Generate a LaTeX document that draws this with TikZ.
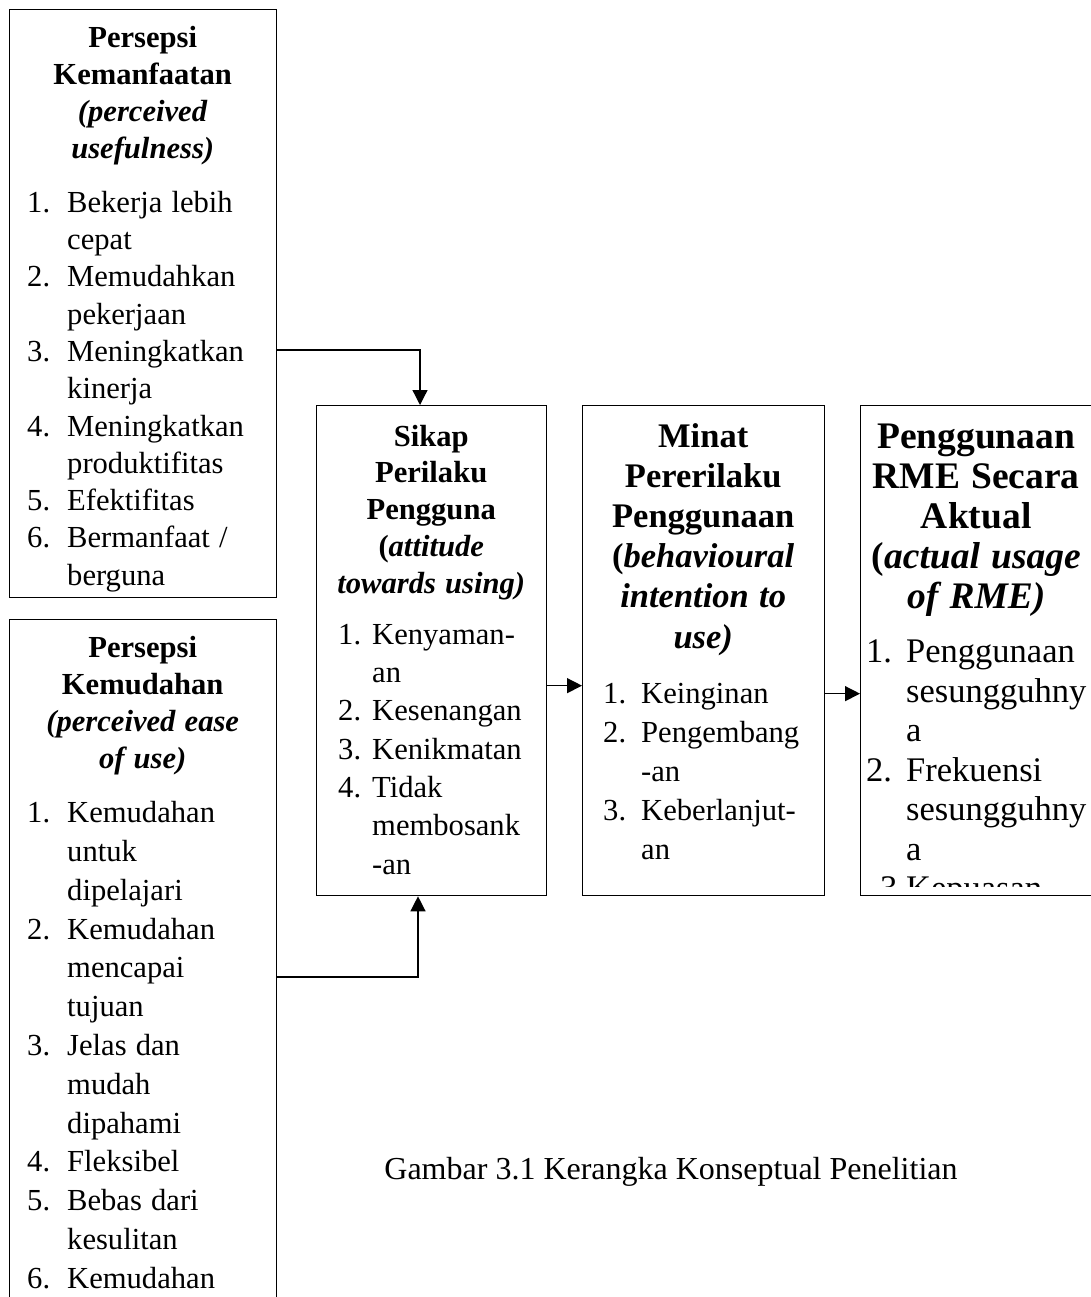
\documentclass[tikz,border=0pt]{standalone}
\usepackage{fontspec}
\setmainfont{Liberation Serif}
\usetikzlibrary{arrows.meta}

\newlength\kiri
\newlength\gantung
\newcommand{\nomor}[1]{\hspace*{\kiri}\makebox[\gantung][l]{#1}}
\newcommand{\sambung}{\hspace*{\kiri}\hspace*{\gantung}}
\newcommand{\ukuran}[2]{\fontsize{#1}{#2}\selectfont\spaceskip=0.3em plus 0.2em\relax}

\begin{document}
\begin{tikzpicture}[x = 1pt, y = -1pt,
  kotak/.style = {draw, line width = 1.3pt, anchor = north west, inner sep = 0pt},
  isi/.style = {anchor = base west, inner sep = 0pt},
  panah/.style = {-{Triangle[length = 15pt, width = 15pt]}, line width = 1.3pt}]
\useasboundingbox (0, 0) rectangle (1090, 1297);
%\draw[very thin, color = gray] (0, 0) grid[step = 100] (1090, 1297);
\node[kotak, minimum width = 267, minimum height = 588] (pu) at (9, 9) {};
\node[kotak, minimum width = 267, minimum height = 720] (peou) at (9, 619) {};
\node[kotak, minimum width = 230, minimum height = 490] (sikap) at (316, 405) {};
\node[kotak, minimum width = 242, minimum height = 490] (minat) at (582, 405) {};
\node[kotak, minimum width = 232, minimum height = 490] (guna) at (860, 405) {};

% perceived usefulness
\node[isi, text width = 267] (pu-teks) at ([yshift = -39pt]pu.north west) {%
  {\centering\bfseries\ukuran{30.6}{37}%
  Persepsi\\ Kemanfaatan\\ \textit{(perceived}\\ \textit{usefulness)}\par}
  \vspace{16pt}
  \raggedright\ukuran{30.6}{37.3}%
  \setlength\kiri{18pt}\setlength\gantung{40pt}%
  \nomor{1.}Bekerja lebih\\
  \sambung cepat\\
  \nomor{2.}Memudahkan\\
  \sambung pekerjaan\\
  \nomor{3.}Meningkatkan\\
  \sambung kinerja\\
  \nomor{4.}Meningkatkan\\
  \sambung produktifitas\\
  \nomor{5.}Efektifitas\\
  \nomor{6.}Bermanfaat /\\
  \sambung berguna\par};

% perceived ease of use
\node[isi, text width = 267] (peou-teks) at ([yshift = -38pt]peou.north west) {%
  {\centering\bfseries\ukuran{30.6}{37.3}%
  Persepsi\\ Kemudahan\\ \textit{(perceived ease}\\ \textit{of use)}\par}
  \vspace{15pt}
  \raggedright\ukuran{30.6}{38.8}%
  \setlength\kiri{18pt}\setlength\gantung{40pt}%
  \nomor{1.}Kemudahan\\
  \sambung untuk\\
  \sambung dipelajari\\
  \nomor{2.}Kemudahan\\
  \sambung mencapai\\
  \sambung tujuan\\
  \nomor{3.}Jelas dan\\
  \sambung mudah\\
  \sambung dipahami\\
  \nomor{4.}Fleksibel\\
  \nomor{5.}Bebas dari\\
  \sambung kesulitan\\
  \nomor{6.}Kemudahan\par};

% attitude towards using
\node[isi, text width = 230] (sikap-teks) at ([yshift = -41pt]sikap.north west) {%
  {\centering\bfseries\ukuran{30.6}{36.75}%
  Sikap\\ Perilaku\\ Pengguna\\ (\textit{attitude}\\ \textit{towards using)}\par}
  \vspace{13pt}
  \raggedright\ukuran{30.6}{38.3}%
  \setlength\kiri{22pt}\setlength\gantung{34pt}%
  \nomor{1.}Kenyaman-\\
  \sambung an\\
  \nomor{2.}Kesenangan\\
  \nomor{3.}Kenikmatan\\
  \nomor{4.}Tidak\\
  \sambung membosank\\
  \sambung -an\par};

% behavioural intention to use
\node[isi, text width = 242] (minat-teks) at ([yshift = -42pt]minat.north west) {%
  {\centering\bfseries\ukuran{34.5}{40.2}%
  Minat\\ Pererilaku\\ Penggunaan\\ (\textit{behavioural}\\ \textit{intention to}\\ \textit{use)}\par}
  \vspace{16pt}
  \raggedright\ukuran{30.6}{39}%
  \setlength\kiri{21pt}\setlength\gantung{38pt}%
  \nomor{1.}Keinginan\\
  \nomor{2.}Pengembang\\
  \sambung -an\\
  \nomor{3.}Keberlanjut-\\
  \sambung an\par};

% actual usage, cut off inside the box
\begin{scope}
\clip (guna.north west) rectangle ([yshift = 10pt]guna.south east);
\node[isi, text width = 232] (guna-teks) at ([yshift = -43pt]guna.north west) {%
  {\centering\bfseries\ukuran{37.5}{40}%
  Penggunaan\\ RME Secara\\ Aktual\\ (\textit{actual usage}\\ \textit{of RME)}\par}
  \vspace{15pt}
  \raggedright\ukuran{34.5}{39.5}%
  \setlength\kiri{6pt}\setlength\gantung{40pt}%
  \nomor{1.}Penggunaan\\
  \sambung sesungguhny\\
  \sambung a\\
  \nomor{2.}Frekuensi\\
  \sambung sesungguhny\\
  \sambung a\\
  \hspace*{20pt}\makebox[26pt][l]{3.}Kepuasan\par};
\end{scope}

\coordinate (belok-atas) at (420, 350);
\coordinate (belok-bawah) at (418, 977);
\draw[panah] (pu.east |- belok-atas) -| (sikap.north -| belok-atas);
\draw[panah] (peou.east |- belok-bawah) -| (sikap.south -| belok-bawah);
\draw[panah] ([yshift = -35pt]sikap.east) -- ([yshift = -35pt]minat.west);
\draw[panah] ([yshift = -43pt]minat.east) -- ([yshift = -43pt]guna.west);

\node (judul) at (671, 1172) {\fontsize{32}{38}\selectfont Gambar 3.1 Kerangka Konseptual Penelitian};
\end{tikzpicture}
\end{document}
